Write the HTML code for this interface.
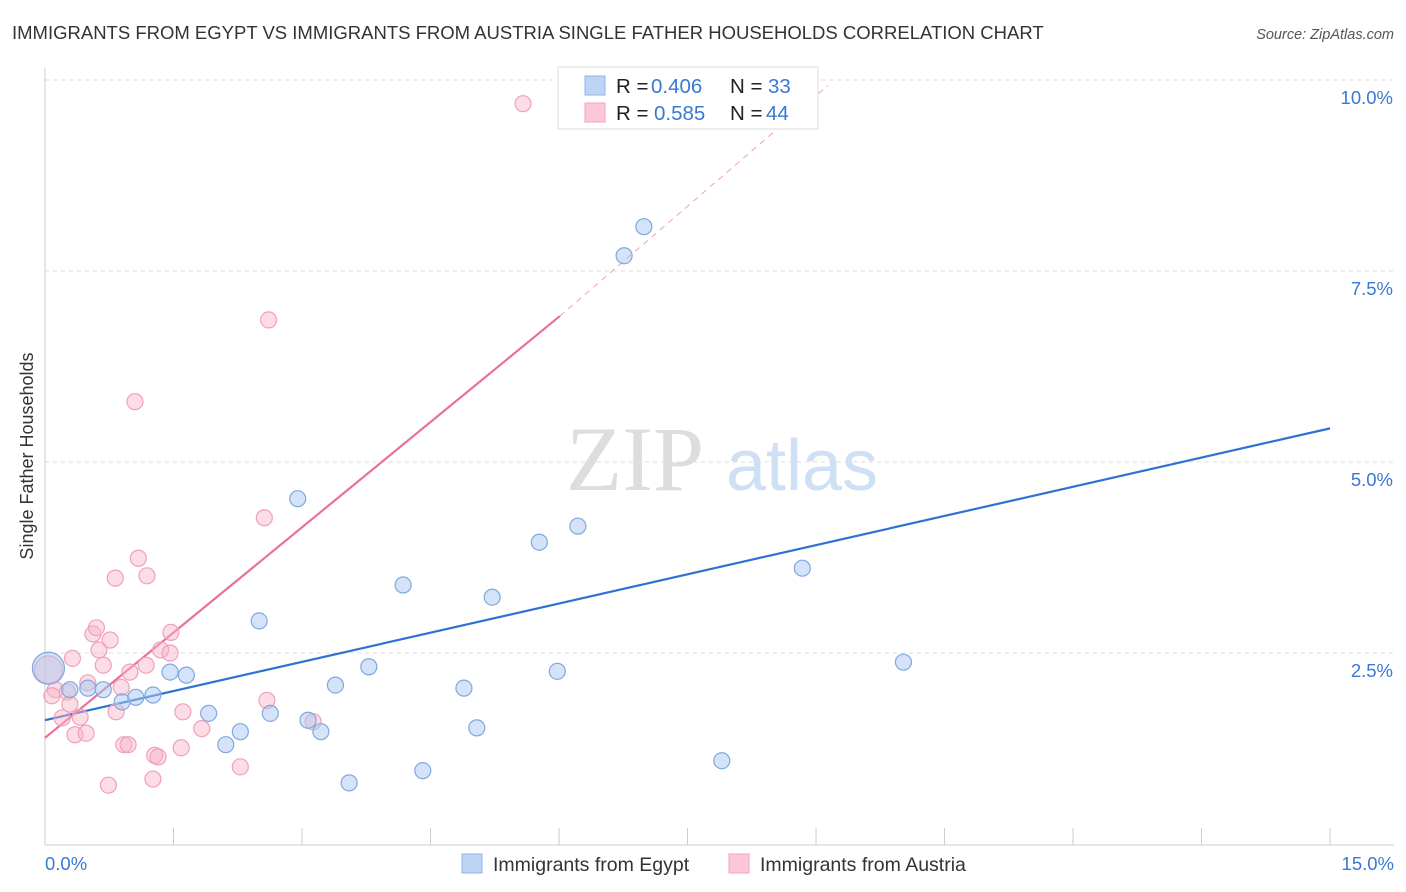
<!DOCTYPE html>
<html><head><meta charset="utf-8"><style>
body{margin:0;background:#fff;font-family:"Liberation Sans",sans-serif;}
svg{display:block}
</style></head><body>
<svg id="chart" width="1406" height="892">
<text x="12" y="39" font-size="18.5" fill="#333">IMMIGRANTS FROM EGYPT VS IMMIGRANTS FROM AUSTRIA SINGLE FATHER HOUSEHOLDS CORRELATION CHART</text>
<text x="1394" y="39" font-size="14.5" fill="#555" font-style="italic" text-anchor="end">Source: ZipAtlas.com</text>
<text x="33" y="456" font-size="18" fill="#333" text-anchor="middle" transform="rotate(-90 33 456)">Single Father Households</text>
<g><text x="635" y="490" font-size="92" fill="#ddd" font-family="Liberation Serif" text-anchor="middle">ZIP</text><text x="802" y="490" font-size="72" fill="#cfe0f5" text-anchor="middle">atlas</text></g>
<g id="grid"></g><g id="axes"></g><g id="lines"></g><g id="pts"></g>
<g>
<rect x="558" y="67" width="260" height="62" fill="#fff" stroke="#ddd"/>
<rect x="585" y="76" width="20" height="19" fill="#bcd5f5" stroke="#8fb4e8"/>
<rect x="585" y="103" width="20" height="19" fill="#fcc8d8" stroke="#f3a5bd"/>
<text x="616" y="93" font-size="20.5" fill="#222">R = <tspan x="651" fill="#3a78d4">0.406</tspan><tspan x="730">N = </tspan><tspan x="768" fill="#3a78d4">33</tspan></text>
<text x="616" y="120" font-size="20.5" fill="#222">R = <tspan x="654" fill="#3a78d4">0.585</tspan><tspan x="730">N = </tspan><tspan x="766" fill="#3a78d4">44</tspan></text>
</g>
<g>
<rect x="462" y="854" width="20" height="19" fill="#bcd5f5" stroke="#8fb4e8"/>
<text x="493" y="871" font-size="19.5" fill="#333">Immigrants from Egypt</text>
<rect x="729" y="854" width="20" height="19" fill="#fcc8d8" stroke="#f3a5bd"/>
<text x="760" y="871" font-size="19.5" fill="#333">Immigrants from Austria</text>
</g>
</svg>
<script>
const yTicks=[2.5,5.0,7.5,10.0];
const xTickVals=[0,1.5,3,4.5,6,7.5,9,10.5,12,13.5,15];
const egyptX=[0.04,0.29,0.50,0.68,0.90,1.06,1.26,1.46,1.65,1.91,2.11,2.28,2.50,2.63,2.95,3.07,3.22,3.39,3.55,3.78,4.18,4.41,4.89,5.04,5.22,5.77,5.98,6.22,6.76,6.99,7.90,8.84,10.02];
const egyptY=[2.30,2.02,2.04,2.02,1.86,1.92,1.95,2.25,2.21,1.71,1.30,1.47,2.92,1.71,4.52,1.62,1.47,2.08,0.80,2.32,3.39,0.96,2.04,1.52,3.23,3.95,2.26,4.16,7.70,8.08,1.09,3.61,2.38];
const austriaX=[0.04,0.12,0.08,0.20,0.26,0.29,0.32,0.35,0.41,0.48,0.50,0.56,0.60,0.63,0.68,0.74,0.76,0.82,0.83,0.89,0.92,0.97,0.99,1.05,1.09,1.18,1.19,1.26,1.28,1.32,1.35,1.46,1.47,1.59,1.61,1.83,2.28,2.56,2.59,2.61,3.13,5.58];
const austriaY=[2.28,2.02,1.94,1.65,1.99,1.83,2.43,1.43,1.66,1.45,2.11,2.75,2.83,2.54,2.34,0.77,2.67,3.48,1.73,2.05,1.30,1.30,2.25,5.79,3.74,2.34,3.51,0.85,1.16,1.14,2.54,2.50,2.77,1.26,1.73,1.51,1.01,4.27,1.88,6.86,1.60,9.69];
const egyptTrend=[1.62,5.44];
const austriaTrend=[1.39,6.91,9.93];
const austriaTrendX=[0,6.01,9.14];
const NS='http://www.w3.org/2000/svg';
const X=v=>45+v*85.67, Y=v=>844-v*76.4;
function mk(t,a,p){const e=document.createElementNS(NS,t);for(const k in a)e.setAttribute(k,a[k]);p.appendChild(e);return e;}
const grid=document.getElementById('grid'),axes=document.getElementById('axes'),lines=document.getElementById('lines'),pts=document.getElementById('pts');
yTicks.forEach(v=>{
 const l=mk('line',{x1:45,x2:1394,y1:Y(v),y2:Y(v),stroke:'#ddd','stroke-dasharray':'4,4'},grid);
 
 
 const t=mk('text',{x:1393,y:Y(v)+24,'font-size':18.5,fill:'#3a78d4','text-anchor':'end'},axes);
 t.textContent=v.toFixed(1)+'%';
 
 
});
const ax=mk('line',{x1:45,x2:1394,y1:845,y2:845,stroke:'#ccc'},axes);


const ay=mk('line',{x1:45,x2:45,y1:68,y2:845,stroke:'#ccc'},axes);


xTickVals.forEach(v=>{const l=mk('line',{x1:X(v),x2:X(v),y1:828,y2:845,stroke:'#ccc'},axes);
 
 });
[[0,'0.0%','start',45],[15,'15.0%','end',1394]].forEach(d=>{const t=mk('text',{x:d[3],y:870,'font-size':18.5,fill:'#3a78d4','text-anchor':d[2]},axes);t.textContent=d[1];
 
 });
const bl=mk('line',{x1:X(0),y1:Y(egyptTrend[0]),x2:X(15),y2:Y(egyptTrend[1]),stroke:'#2e72d2','stroke-width':2.2},lines);


const pl=mk('line',{x1:X(austriaTrendX[0]),y1:Y(austriaTrend[0]),x2:X(austriaTrendX[1]),y2:Y(austriaTrend[1]),stroke:'#e8709a','stroke-width':2.2},lines);


const pd=mk('line',{x1:X(austriaTrendX[1]),y1:Y(austriaTrend[1]),x2:X(austriaTrendX[2]),y2:Y(austriaTrend[2]),stroke:'#f0a0ba','stroke-width':1,'stroke-dasharray':'6,5'},lines);


austriaX.forEach((x,i)=>{const c=mk('circle',{cx:X(x),cy:Y(austriaY[i]),r:i==0?14:8,fill:'rgba(248,180,200,0.45)',stroke:'#f0a0ba','stroke-width':1.2},pts);
 
 });
egyptX.forEach((x,i)=>{const c=mk('circle',{cx:X(x),cy:Y(egyptY[i]),r:i==0?16:8,fill:'rgba(170,200,240,0.5)',stroke:'#7fa8e0','stroke-width':1.2},pts);
 
 });
</script>
</body></html>
